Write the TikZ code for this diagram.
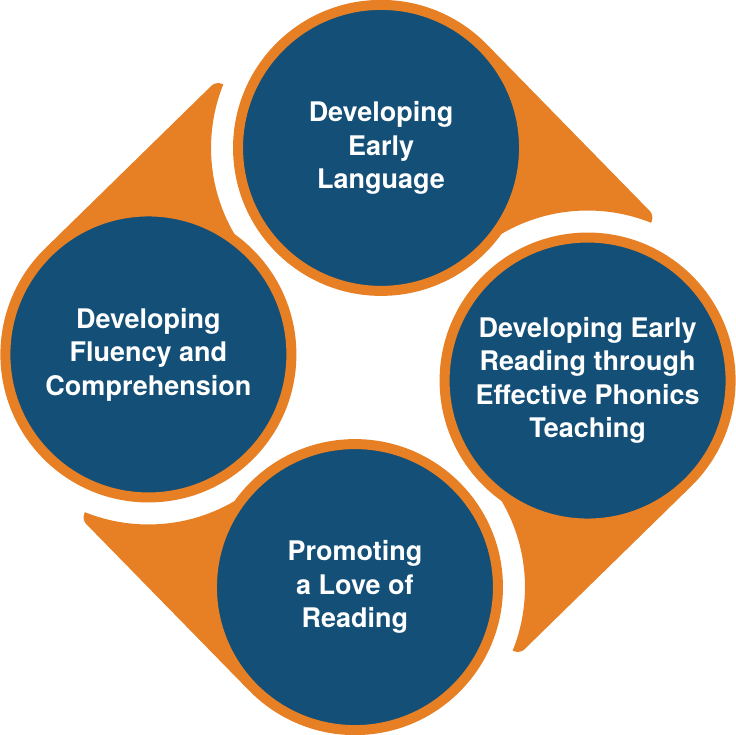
\documentclass[tikz,border=0pt]{standalone}
\usepackage{fontspec}
\setmainfont{TeX Gyre Heros}
\usetikzlibrary{calc,backgrounds}
\definecolor{ringorange}{HTML}{E77F24}
\definecolor{stageblue}{HTML}{134F77}

\begin{document}
\begin{tikzpicture}[x=1pt,y=1pt,
      stage/.style={circle,fill=stageblue,draw=ringorange,line width=10pt,
        minimum size=286pt,inner sep=0pt,outer sep=0pt,text=white,align=center,
        font=\bfseries\fontsize{27}{33.5}\selectfont}]
    \useasboundingbox (-368,-367.5) rectangle (368,367.5);
    \node[stage] (lang) at (86.6:220) {Developing\\Early\\Language};
    \node[stage] (phon) at (-3.4:220) {Developing Early\\Reading through\\Effective Phonics\\Teaching};
    \node[stage] (love) at (-93.4:220) {Promoting\\a Love of\\Reading};
    \node[stage] (flu) at (-183.4:220) {Developing\\Fluency and\\Comprehension};
    % tails, cut back by the gap round the next stage
    \begin{scope}[on background layer]
      \foreach \from/\to/\a in {lang/phon/86.6,phon/love/-3.4,love/flu/-93.4,flu/lang/-183.4}{
        \begin{scope}[even odd rule]
          \clip (-400,-400) rectangle (400,400) (\to.center) circle (170);
          \fill[ringorange,rounded corners=6pt] (\from.center) -- ($(\from.center)+(\a-42.4:148)$)
            -- (\a-58.6:324) -- (\to.center) -- cycle;
        \end{scope}
      }
    \end{scope}
  \end{tikzpicture}
\end{document}
